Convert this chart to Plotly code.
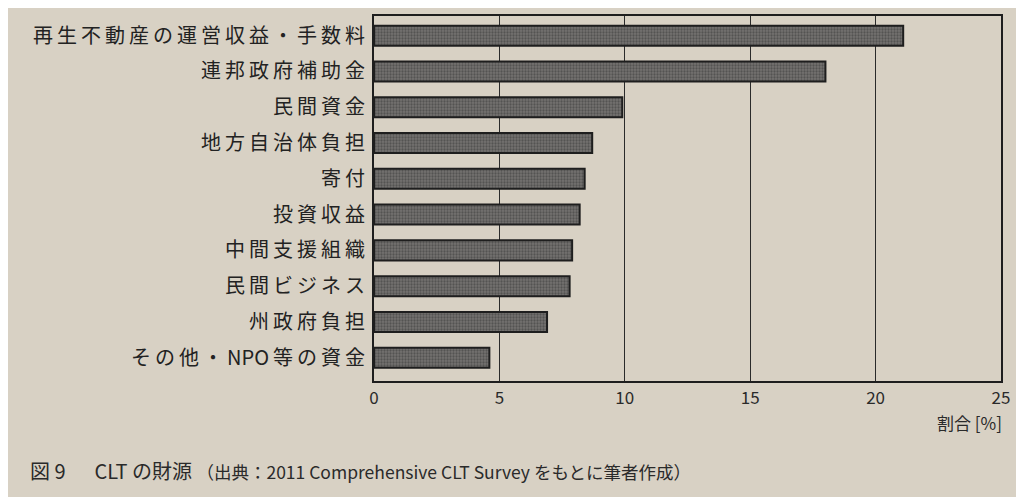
import plotly.graph_objects as go

categories = ["再生不動産の運営収益・手数料", "連邦政府補助金", "民間資金", "地方自治体負担", "寄付",
              "投資収益", "中間支援組織", "民間ビジネス", "州政府負担", "その他・NPO等の資金"]
values = [21.1, 18.0, 9.9, 8.7, 8.4, 8.2, 7.9, 7.8, 6.9, 4.6]
tick_vals = [0, 5, 10, 15, 20, 25]

paper = "#d8d1c4"
font = "Noto Sans CJK JP"
TS = "\u2009"  # thin space for the print's letter spacing (not between Latin letters)


def spaced_label(s):
    out = s[0]
    for a, b in zip(s, s[1:]):
        out += ("" if (a.isascii() and b.isascii()) else TS) + b
    return out


spaced = [spaced_label(c) for c in categories]

fig = go.Figure(go.Bar(
    x=values, y=categories, orientation="h",
    marker=dict(color="#6a6966", line=dict(color="#1e1e1e", width=2),
                pattern=dict(shape=".", size=3, solidity=0.45, fgcolor="#333333", bgcolor="#747270")),
    width=0.56,
))

fig.update_layout(
    width=1016, height=489,
    margin=dict(l=366, r=23, t=6, b=116),
    paper_bgcolor=paper, plot_bgcolor=paper,
    font=dict(family=font, color="#222222"),
    showlegend=False,
    xaxis=dict(range=[0, 25], tickvals=tick_vals, showgrid=True, gridcolor="#2a2a2a", gridwidth=1,
               showline=True, linecolor="#1e1e1e", linewidth=2, mirror=True, zeroline=False,
               ticks="", tickfont=dict(size=17, family=font, color="#2a2a2a"), ticklabelstandoff=1),
    yaxis=dict(autorange=False, range=[9.65, -0.55], showline=True, linecolor="#1e1e1e", linewidth=2,
               mirror=True, showgrid=False, ticks="", tickfont=dict(size=20, family=font, color="#222222"),
               tickmode="array", tickvals=categories, ticktext=spaced,
               ticklabelstandoff=3),
    annotations=[
        dict(text="割合 [%]", xref="paper", yref="paper", x=1.005, y=-0.075, xanchor="right", yanchor="top",
             showarrow=False, font=dict(size=17, family=font, color="#2a2a2a")),
        dict(text="図 9　  CLT の財源 <span style='font-size:17.5px'>（出典：2011 Comprehensive CLT Survey をもとに筆者作成）</span>",
             xref="paper", yref="paper", x=-0.552, y=-0.2, xanchor="left", yanchor="top",
             showarrow=False, font=dict(size=20, family=font, color="#2a2a2a")),
    ],
)

fig.write_html("out.html")
